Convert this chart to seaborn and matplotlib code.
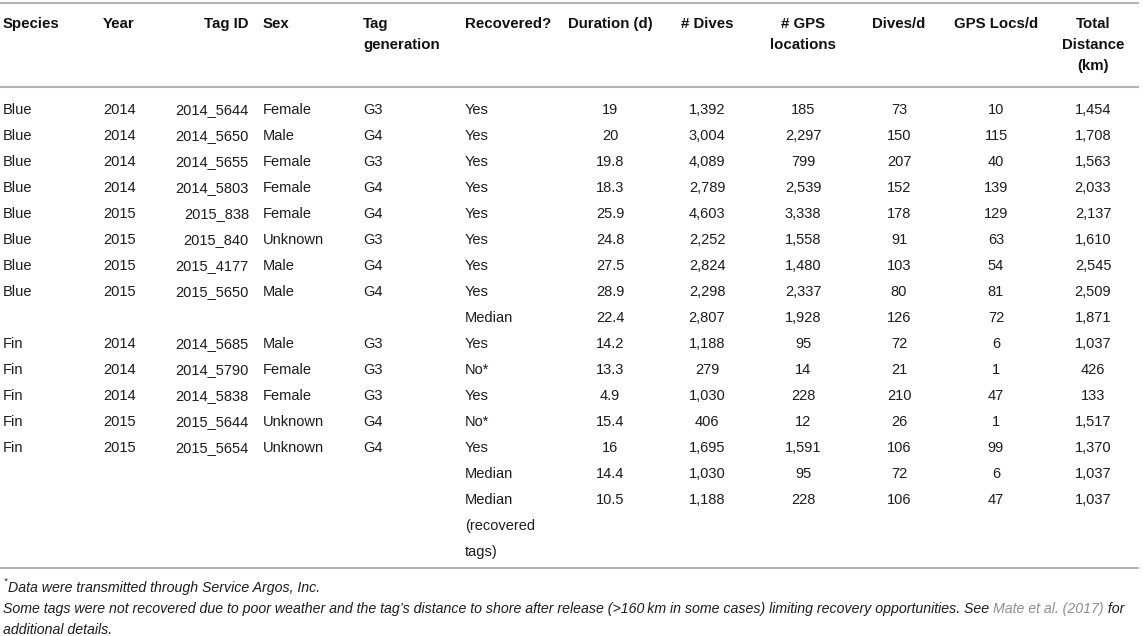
import matplotlib
matplotlib.use("Agg")
import matplotlib.pyplot as plt
import seaborn as sns

# ---- table content -------------------------------------------------------
headers = ["Species", "Year", "Tag ID", "Sex", "Tag\ngeneration", "Recovered?",
           "Duration (d)", "# Dives", "# GPS\nlocations", "Dives/d",
           "GPS Locs/d", "Total\nDistance\n(km)"]

species = ["Blue"] * 8 + [""] + ["Fin"] * 5 + ["", ""]
year = [2014, 2014, 2014, 2014, 2015, 2015, 2015, 2015, None,
        2014, 2014, 2014, 2015, 2015, None, None]
tag_id = ["2014_5644", "2014_5650", "2014_5655", "2014_5803", "2015_838",
          "2015_840", "2015_4177", "2015_5650", "",
          "2014_5685", "2014_5790", "2014_5838", "2015_5644", "2015_5654", "", ""]
sex = ["Female", "Male", "Female", "Female", "Female", "Unknown", "Male", "Male", "",
       "Male", "Female", "Female", "Unknown", "Unknown", "", ""]
tag_gen = ["G3", "G4", "G3", "G4", "G4", "G3", "G4", "G4", "",
           "G3", "G3", "G3", "G4", "G4", "", ""]
recovered = ["Yes"] * 8 + ["Median"] + ["Yes", "No*", "Yes", "No*", "Yes"] + \
            ["Median", "Median\n(recovered\ntags)"]
duration = [19, 20, 19.8, 18.3, 25.9, 24.8, 27.5, 28.9, 22.4,
            14.2, 13.3, 4.9, 15.4, 16, 14.4, 10.5]
n_dives = [1392, 3004, 4089, 2789, 4603, 2252, 2824, 2298, 2807,
           1188, 279, 1030, 406, 1695, 1030, 1188]
n_gps = [185, 2297, 799, 2539, 3338, 1558, 1480, 2337, 1928,
         95, 14, 228, 12, 1591, 95, 228]
dives_per_d = [73, 150, 207, 152, 178, 91, 103, 80, 126,
               72, 21, 210, 26, 106, 72, 106]
gps_per_d = [10, 115, 40, 139, 129, 63, 54, 81, 72,
             6, 1, 47, 1, 99, 6, 47]
total_km = [1454, 1708, 1563, 2033, 2137, 1610, 2545, 2509, 1871,
            1037, 426, 133, 1517, 1370, 1037, 1037]

footnote_1 = "Data were transmitted through Service Argos, Inc."
footnote_2 = ["Some tags were not recovered due to poor weather and the tag\u2019s distance "
              "to shore after release (>160\u2009km in some cases) limiting recovery "
              "opportunities. See ", "Mate et al. (2017)", " for"]
footnote_3 = "additional details."

# ---- layout ----------------------------------------------------------------
W, H = 1143, 636
COL_X = [3, 103, 249, 263, 363, 465, 610, 707, 803, 899, 996, 1093]
COL_HA = ["left", "left", "right", "left", "left", "left",
          "center", "center", "center", "center", "center", "center"]
HEAD_Y0, HEAD_DY = 23, 21
ROW_Y0, ROW_DY = 109, 26
RULES_Y = [3, 87, 568]
FOOT_Y = [587, 608, 629]
BASE = 5            # centre -> baseline offset in px
FS, FS_HEAD, FS_FOOT = 10.5, 10.8, 10.2
C_TEXT = "#1c1c1c"
C_RULE = "#b4b4b4"
C_LINK = "#8e8e8e"

sns.set_theme(style="white")
plt.rcParams["font.family"] = ["Liberation Sans", "DejaVu Sans"]

fig = plt.figure(figsize=(W / 100, H / 100), dpi=100)
ax = fig.add_axes([0, 0, 1, 1])
ax.set_xlim(0, W)
ax.set_ylim(H, 0)
ax.axis("off")

for y in RULES_Y:
    ax.hlines(y, 0, W - 4, color=C_RULE, linewidth=1.5)

# header
for x, ha, label in zip(COL_X, COL_HA, headers):
    for i, line in enumerate(label.split("\n")):
        ax.text(x, HEAD_Y0 + i * HEAD_DY + BASE, line, ha=ha, va="baseline",
                fontsize=FS_HEAD, fontweight="bold", color="#111111")


def fmt_num(v):
    return f"{v:g}" if isinstance(v, float) else f"{v:,}"


columns = [
    species,
    ["" if v is None else str(v) for v in year],
    tag_id, sex, tag_gen, recovered,
    [fmt_num(v) for v in duration],
    [fmt_num(v) for v in n_dives],
    [fmt_num(v) for v in n_gps],
    [fmt_num(v) for v in dives_per_d],
    [fmt_num(v) for v in gps_per_d],
    [fmt_num(v) for v in total_km],
]

for x, ha, col in zip(COL_X, COL_HA, columns):
    for r, cell in enumerate(col):
        for i, line in enumerate(cell.split("\n")):
            ax.text(x, ROW_Y0 + (r + i) * ROW_DY + BASE, line, ha=ha, va="baseline",
                    fontsize=FS, color=C_TEXT)

# footnotes
ax.text(3, FOOT_Y[0] - 3, "*", fontsize=6.5, style="italic", color=C_TEXT, va="baseline")
ax.text(8, FOOT_Y[0] + BASE, footnote_1, fontsize=FS_FOOT, style="italic",
        color=C_TEXT, va="baseline")

fig.canvas.draw()
renderer = fig.canvas.get_renderer()
x_cur = 3
for part, col in zip(footnote_2, [C_TEXT, C_LINK, C_TEXT]):
    t = ax.text(x_cur, FOOT_Y[1] + BASE, part, fontsize=FS_FOOT, style="italic",
                color=col, va="baseline")
    bb = t.get_window_extent(renderer).transformed(ax.transData.inverted())
    x_cur = bb.x1

ax.text(3, FOOT_Y[2] + BASE, footnote_3, fontsize=FS_FOOT, style="italic",
        color=C_TEXT, va="baseline")

fig.savefig("out.png", dpi=100, facecolor="white")
plt.close(fig)
